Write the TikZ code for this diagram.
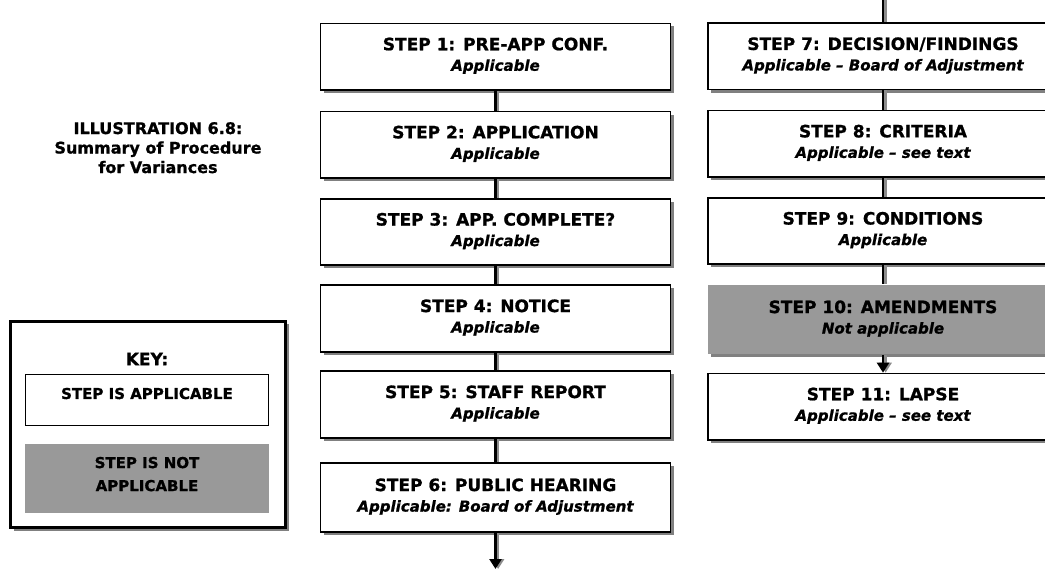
\documentclass[tikz,border=0pt]{standalone}
\usepackage{fontspec}
\setmainfont{DejaVu Sans}[BoldFeatures={FakeBold=1}, BoldItalicFeatures={FakeBold=1}]
\usetikzlibrary{arrows.meta,shadows}
\newcommand{\titlefont}{\fontsize{17pt}{20.5pt}\selectfont\bfseries}
\newcommand{\subfont}{\fontsize{15pt}{20.5pt}\selectfont\bfseries\itshape}
\newcommand{\stepcell}[2]{\rule{0pt}{12.5pt}#1\\\subfont\rule[-5pt]{0pt}{5pt}#2}
\tikzset{
    boxshadow/.style={drop shadow={shadow xshift=3pt, shadow yshift=-3pt, fill=black!50, opacity=1}},
    stepbox/.style={draw=black, line width=1.6pt, fill=white, align=center,
        minimum width=350pt, minimum height=66.5pt, inner sep=0pt,
        font=\titlefont, boxshadow},
    napbox/.style={stepbox, draw=none, fill=black!40},% step not applicable
    keybox/.style={draw=black, line width=1pt, fill=white, minimum width=243pt, minimum height=51pt,
        font=\fontsize{15pt}{23pt}\selectfont\bfseries, text height=11pt, text depth=13pt},
    keynap/.style={fill=black!40, minimum width=244pt, minimum height=69pt, align=center,
        font=\fontsize{15pt}{23pt}\selectfont\bfseries},
    link/.style={line width=2.6pt, draw=black},
    linkshade/.style={line width=2.6pt, draw=black!45},
    tip/.style={-{Triangle[width=12pt,length=10pt]}},
}
\begin{document}
\begin{tikzpicture}[x=1pt, y=-1pt]
    \useasboundingbox (0,0) rectangle (1045,569);
    % caption
    \node[align=center, font=\fontsize{16pt}{19.5pt}\selectfont\bfseries] (caption) at (158,147.7)
        {ILLUSTRATION 6.8:\\Summary of Procedure\\for Variances};
    % key
    \node[draw=black, line width=2.6pt, fill=white, minimum width=275pt, minimum height=206pt, boxshadow]
        (key) at (148,424.5) {};
    \node[font=\fontsize{17pt}{20pt}\selectfont\bfseries] (keyhead) at (147,359) {KEY:};
    \node[keybox] (keyapp) at (147,400) {STEP IS APPLICABLE};
    \node[keynap] (keyna) at (147,478.5) {STEP IS NOT\\APPLICABLE\rule[-9pt]{0pt}{9pt}};
    % left column
    \node[stepbox] (s1) at (495.5,56.7) {\stepcell{STEP 1: PRE-APP CONF.}{Applicable}};
    \node[stepbox] (s2) at (495.5,144.8) {\stepcell{STEP 2: APPLICATION}{Applicable}};
    \node[stepbox] (s3) at (495.5,232) {\stepcell{STEP 3: APP. COMPLETE?}{Applicable}};
    \node[stepbox] (s4) at (495.5,318.5) {\stepcell{STEP 4: NOTICE}{Applicable}};
    \node[stepbox] (s5) at (495.5,404.5) {\stepcell{STEP 5: STAFF REPORT}{Applicable}};
    \node[stepbox, minimum height=69.5pt] (s6) at (495.5,497.5) {\stepcell{STEP 6: PUBLIC HEARING}{Applicable: Board of Adjustment}};
    % right column
    \node[stepbox] (s7) at (883,56.4) {\stepcell{STEP 7: DECISION/FINDINGS}{Applicable -- Board of Adjustment}};
    \node[stepbox] (s8) at (883,143.8) {\stepcell{STEP 8: CRITERIA}{Applicable -- see text}};
    \node[stepbox] (s9) at (883,231) {\stepcell{STEP 9: CONDITIONS}{Applicable}};
    \node[napbox, minimum height=69pt] (s10) at (883,319.5) {\stepcell{STEP 10: AMENDMENTS}{Not applicable}};
    \node[stepbox] (s11) at (883,406.7) {\stepcell{STEP 11: LAPSE}{Applicable -- see text}};
    \coordinate (rtop) at (883,0);
    \coordinate (lend) at (495.5,569);
    % connectors
    \foreach \a/\b in {s1/s2,s2/s3,s3/s4,s4/s5,s5/s6,s7/s8,s8/s9,s9/s10,rtop/s7}{
        \draw[linkshade] ([xshift=2.6pt]\a.south) -- ([xshift=2.6pt]\b.north);
        \draw[link] (\a.south) -- (\b.north);
    }
    \draw[linkshade,tip] ([xshift=2.6pt]s10.south) -- ([xshift=2.6pt]s11.north);
    \draw[link,tip] (s10.south) -- (s11.north);
    \draw[linkshade,tip] ([xshift=2.6pt]s6.south) -- ([xshift=2.6pt]lend);
    \draw[link,tip] (s6.south) -- (lend);
\end{tikzpicture}
\end{document}
